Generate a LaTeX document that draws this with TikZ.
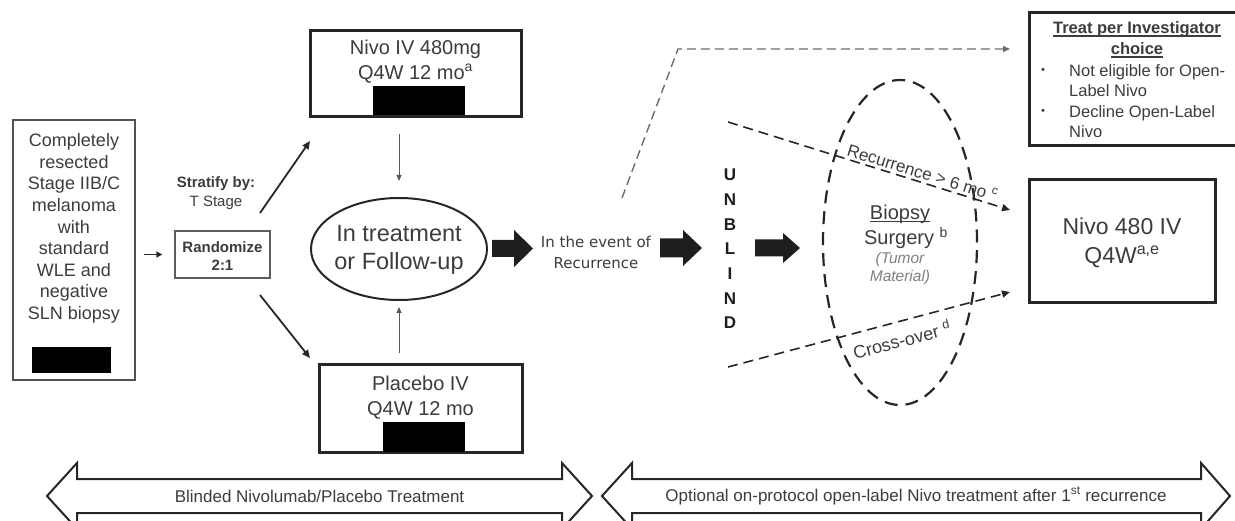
\documentclass[tikz,border=0pt]{standalone}
\usepackage{fontspec}
\setmainfont{Liberation Sans}
\newfontfamily\dvs{DejaVu Sans}
\usetikzlibrary{shapes.geometric,arrows.meta}
\definecolor{tx}{HTML}{3C3C3C}
\definecolor{ln}{HTML}{262626}
\definecolor{blk}{HTML}{1E1E1E}
\newcommand\myul[1]{\setbox0\hbox{#1}\rlap{\rule[-3.2pt]{\wd0}{1.2pt}}\box0}
\tikzset{
  txt/.style={text=tx, inner sep=0pt, align=center},
  thickbox/.style={draw=ln, line width=3pt, inner sep=0pt},
  thinbox/.style={draw=ln!80, line width=1.8pt, inner sep=0pt},
  redact/.style={fill=black, draw=none, inner sep=0pt},
  thinarr/.style={draw=gray!70!black, line width=0.9pt, -{Triangle[length=6pt,width=5pt]}},
  diagarr/.style={draw=ln, line width=1.8pt, -{Triangle[length=8pt,width=7pt]}},
  dashln/.style={draw=ln, line width=1.6pt, dash pattern=on 10pt off 6pt, -{Triangle[length=8pt,width=7pt]}},
  greydash/.style={draw=gray!85!black, line width=1.4pt, dash pattern=on 9pt off 5pt, -{Triangle[length=7pt,width=6pt]}},
  bigdbl/.style={draw=ln, line width=2pt, fill=white},
}
\begin{document}
\begin{tikzpicture}[x=1pt,y=-1pt]
\useasboundingbox (0,0) rectangle (1235,521);

% left eligibility box
\node[thinbox, minimum width=122pt, minimum height=260pt] (elig) at (74,250) {};
\node[txt, font=\fontsize{18}{21.6}\selectfont] (eligtxt) at (74,228.5)
  {Completely\\resected\\Stage IIB/C\\melanoma\\with\\standard\\WLE and\\negative\\SLN biopsy};
\node[redact, minimum width=79pt, minimum height=26pt] (r1) at (71.5,360) {};

% stratify / randomize
\node[txt, font=\fontsize{15}{19}\selectfont] (strat) at (216,193.5) {\textbf{Stratify by:}\\T Stage};
\node[draw=ln!75, line width=1.3pt, minimum width=95pt, minimum height=47pt, inner sep=0pt] (rand) at (222.5,254.5) {};
\node[txt, font=\bfseries\fontsize{15}{18}\selectfont] (randtxt) at (222.5,256) {Randomize\\2:1};
\draw[line width=1.6pt, draw=ln, -{Triangle[length=6pt,width=6pt]}] ([xshift=8pt]elig.east |- rand) -- ([xshift=-12pt]rand.west);

% arms
\node[thickbox, minimum width=211pt, minimum height=86pt] (nivo) at (415.5,74) {};
\node[txt, font=\fontsize{20}{25}\selectfont] (nivotxt) at (415.5,61.5) {Nivo IV 480mg\\Q4W 12 mo\textsuperscript{a}};
\node[redact, minimum width=92pt, minimum height=29pt] (r2) at (419,100.5) {};

\node[thickbox, minimum width=203pt, minimum height=87pt] (plac) at (420.5,408.5) {};
\node[txt, font=\fontsize{20}{25}\selectfont] (plactxt) at (420.5,397.5) {Placebo IV\\Q4W 12 mo};
\node[redact, minimum width=82pt, minimum height=30pt] (r3) at (424,437) {};

\coordinate (d1s) at (260,213); \coordinate (d1e) at (310,141);
\coordinate (d2s) at (260,295); \coordinate (d2e) at (310,358);
\draw[diagarr] (d1s) -- (d1e);
\draw[diagarr] (d2s) -- (d2e);

% treatment ellipse
\node[ellipse, draw=ln, line width=2pt, minimum width=176pt, minimum height=102pt, inner sep=0pt] (follow) at (399,249) {};
\node[txt, font=\fontsize{23.5}{28}\selectfont] (followtxt) at (399,250) {In treatment\\or Follow-up};
\draw[thinarr] ([yshift=-16pt]follow.north |- nivo.south) -- ([yshift=16pt]follow.north);
\draw[thinarr] ([yshift=10pt]follow.south |- plac.north) -- ([yshift=-6pt]follow.south);

% block arrows
\fill[blk] (492,240) -- (514,240) -- (514,230) -- (533,248.5) -- (514,267) -- (514,257) -- (492,257) -- cycle;
\node[txt, font=\dvs\fontsize{15}{21}\selectfont] (event) at (596,252.5) {In the event of\\Recurrence};
\fill[blk] (660,238.5) -- (683,238.5) -- (683,230) -- (702,248) -- (683,266) -- (683,257.5) -- (660,257.5) -- cycle;
\node[txt, text=blk, font=\bfseries\fontsize{17}{24.7}\selectfont] (unblind) at (730,249) {U\\N\\B\\L\\I\\N\\D};
\fill[blk] (755,239.5) -- (783,239.5) -- (783,233) -- (800,248) -- (783,263) -- (783,256.5) -- (755,256.5) -- cycle;

% dashed path to investigator choice
\coordinate (gs) at (622,198); \coordinate (gc) at (678,49); \coordinate (ge) at (1010,49);
\draw[greydash] (gs) -- (gc) -- (ge);

% biopsy dashed ellipse
\node[ellipse, draw=ln, line width=2.2pt, dash pattern=on 13pt off 8pt, minimum width=154pt, minimum height=325pt, inner sep=0pt] (biop) at (900,242.5) {};
\node[txt, font=\fontsize{20}{25}\selectfont] (biopsy) at (900,214) {\myul{Biopsy}};
\node[txt, font=\fontsize{20}{25}\selectfont] (surgery) at (906,238) {Surgery \textsuperscript{b}};
\node[txt, text=gray, font=\itshape\fontsize{15.5}{18}\selectfont] (tumor) at (900,268) {(Tumor\\Material)};

% recurrence / cross-over
\coordinate (rc1) at (728,122); \coordinate (rc2) at (1010,210);
\coordinate (co1) at (728,367); \coordinate (co2) at (1010,292);
\draw[dashln] (rc1) -- (rc2);
\draw[dashln] (co1) -- (co2);
\path (rc1) -- node[pos=0.68, sloped, above=3pt, txt, font=\fontsize{17}{20}\selectfont] (reclab) {Recurrence > 6 mo \textsuperscript{c}} (rc2);
\path (co1) -- node[pos=0.6, sloped, below=10pt, txt, font=\fontsize{18}{20}\selectfont] (colab) {Cross-over \textsuperscript{d}} (co2);

% Nivo 480 box
\node[thickbox, minimum width=186pt, minimum height=123pt] (nivo480) at (1122,241.5) {};
\node[txt, font=\fontsize{23}{29}\selectfont] (nivo480txt) at (1122,242.5) {Nivo 480 IV\\Q4W\textsuperscript{a,e}};

% Treat per investigator box
\node[thickbox, minimum width=211pt, minimum height=133pt] (treat) at (1134.5,79.5) {};
\node[txt, font=\bfseries\fontsize{16.5}{21}\selectfont] (treattitle) at (1137,39.5) {\myul{Treat per Investigator}\\\myul{choice}};
\node[txt, font=\fontsize{11}{12}\selectfont] (b1) at (1043,71) {\textbullet};
\node[txt, font=\fontsize{11}{12}\selectfont] (b2) at (1043,112) {\textbullet};
\node[txt, align=left, anchor=west, font=\fontsize{16.5}{20.5}\selectfont] (i1) at (1069,80.5) {Not eligible for Open-\\Label Nivo};
\node[txt, align=left, anchor=west, font=\fontsize{16.5}{20.5}\selectfont] (i2) at (1069,121.5) {Decline Open-Label\\Nivo};

% bottom double arrows
\draw[bigdbl] (47,496) -- (77,463) -- (77,479) -- (562,479) -- (562,463) -- (592,496) -- (562,529) -- (562,513) -- (77,513) -- (77,529) -- cycle;
\node[txt, font=\fontsize{17}{20}\selectfont] (blinded) at (319.5,496) {Blinded Nivolumab/Placebo Treatment};
\draw[bigdbl] (602,496) -- (632,463) -- (632,479) -- (1201,479) -- (1201,463) -- (1230,496) -- (1201,529) -- (1201,513) -- (632,513) -- (632,529) -- cycle;
\node[txt, font=\fontsize{17}{20}\selectfont] (optional) at (916,496) {Optional on-protocol open-label Nivo treatment after 1\textsuperscript{st} recurrence};
\end{tikzpicture}
\end{document}
